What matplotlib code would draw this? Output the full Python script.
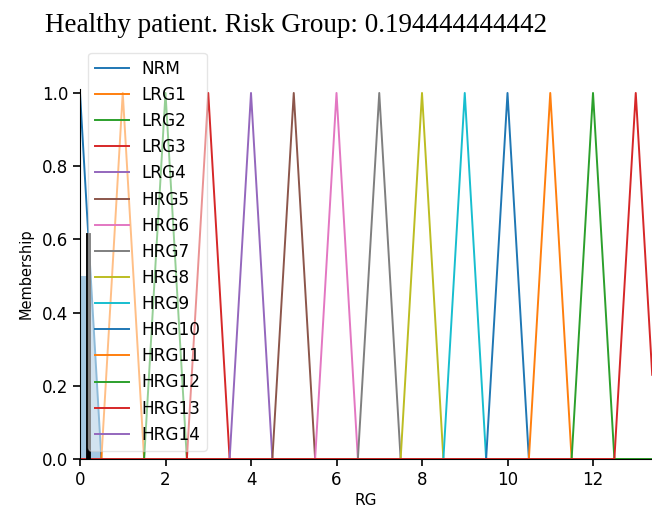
import numpy as np
import matplotlib
matplotlib.use("Agg")
import matplotlib.pyplot as plt

# ---- data ----
terms = ['NRM', 'LRG1', 'LRG2', 'LRG3', 'LRG4', 'HRG5', 'HRG6', 'HRG7',
         'HRG8', 'HRG9', 'HRG10', 'HRG11', 'HRG12', 'HRG13', 'HRG14']
tri_a = [0, 0.5, 1.5, 2.5, 3.5, 4.5, 5.5, 6.5, 7.5, 8.5, 9.5, 10.5, 11.5, 12.5, 13.5]
tri_b = [0, 1, 2, 3, 4, 5, 6, 7, 8, 9, 10, 11, 12, 13, 14]
tri_c = [0.5, 1.5, 2.5, 3.5, 4.5, 5.5, 6.5, 7.5, 8.5, 9.5, 10.5, 11.5, 12.5, 13.5, 14.5]
universe_min, universe_max, universe_step = 0.0, 14.5, 0.005
activated_term = 'NRM'
activation_level = 0.5
crisp_value = 0.194444444442
title_text = 'Healthy patient. Risk Group: 0.194444444442'
x_ticks = [0, 2, 4, 6, 8, 10, 12]
y_ticks = [0.0, 0.2, 0.4, 0.6, 0.8, 1.0]


def trimf(x, a, b, c):
    y = np.zeros_like(x)
    if b > a:
        m = (x > a) & (x < b)
        y[m] = (x[m] - a) / (b - a)
    if c > b:
        m = (x >= b) & (x < c)
        y[m] = (c - x[m]) / (c - b)
    y[x == b] = 1.0
    return y


universe = np.arange(universe_min, universe_max + universe_step / 2, universe_step)

W, H = 652, 507
fig = plt.figure(figsize=(W / 100, H / 100), dpi=100)
ax = fig.add_axes([80 / W, 48 / H, 572 / W, (459 - 89.3) / H])

colors = plt.rcParams['axes.prop_cycle'].by_key()['color']
handles = []
mfs = {}
for i, name in enumerate(terms):
    mf = trimf(universe, tri_a[i], tri_b[i], tri_c[i])
    mfs[name] = mf
    z = 1.9 if name == 'HRG14' else 2
    ln, = ax.plot(universe, mf, color=colors[i % 10], lw=1.4, label=name, zorder=z)
    handles.append(ln)

ax.set_ylim(0, 1.01)
ax.set_xlim(0, 13.38)
ax.set_xticks(x_ticks)
ax.set_yticks(y_ticks)
ax.tick_params(labelsize=12, length=5, width=1.2)
ax.spines['top'].set_visible(False)
ax.spines['right'].set_visible(False)
ax.set_xlabel('RG', fontsize=11, labelpad=3)
ax.set_ylabel('Membership', fontsize=10.5, labelpad=6)

leg = ax.legend(handles=handles, loc='lower left', framealpha=0.5,
                fontsize=12.2, labelspacing=0.48, handlelength=2.0,
                handletextpad=0.7, borderaxespad=0.5, borderpad=0.4)

# activation fill
idx = terms.index(activated_term)
cut = np.fmin(mfs[activated_term], activation_level)
ax.fill_between(universe, np.zeros_like(universe), cut,
                facecolor=colors[idx % 10], alpha=0.4)

# crisp value
y_crisp = np.interp(crisp_value, universe, mfs[activated_term])
ax.plot([crisp_value, crisp_value], [0, y_crisp], color='k', lw=3.5)

fig.text(45 / W, 1 - 26 / H, title_text, fontsize=19.5,
         family=['Liberation Serif', 'DejaVu Serif'], ha='left', va='center')

fig.savefig('out.png', dpi=100)
